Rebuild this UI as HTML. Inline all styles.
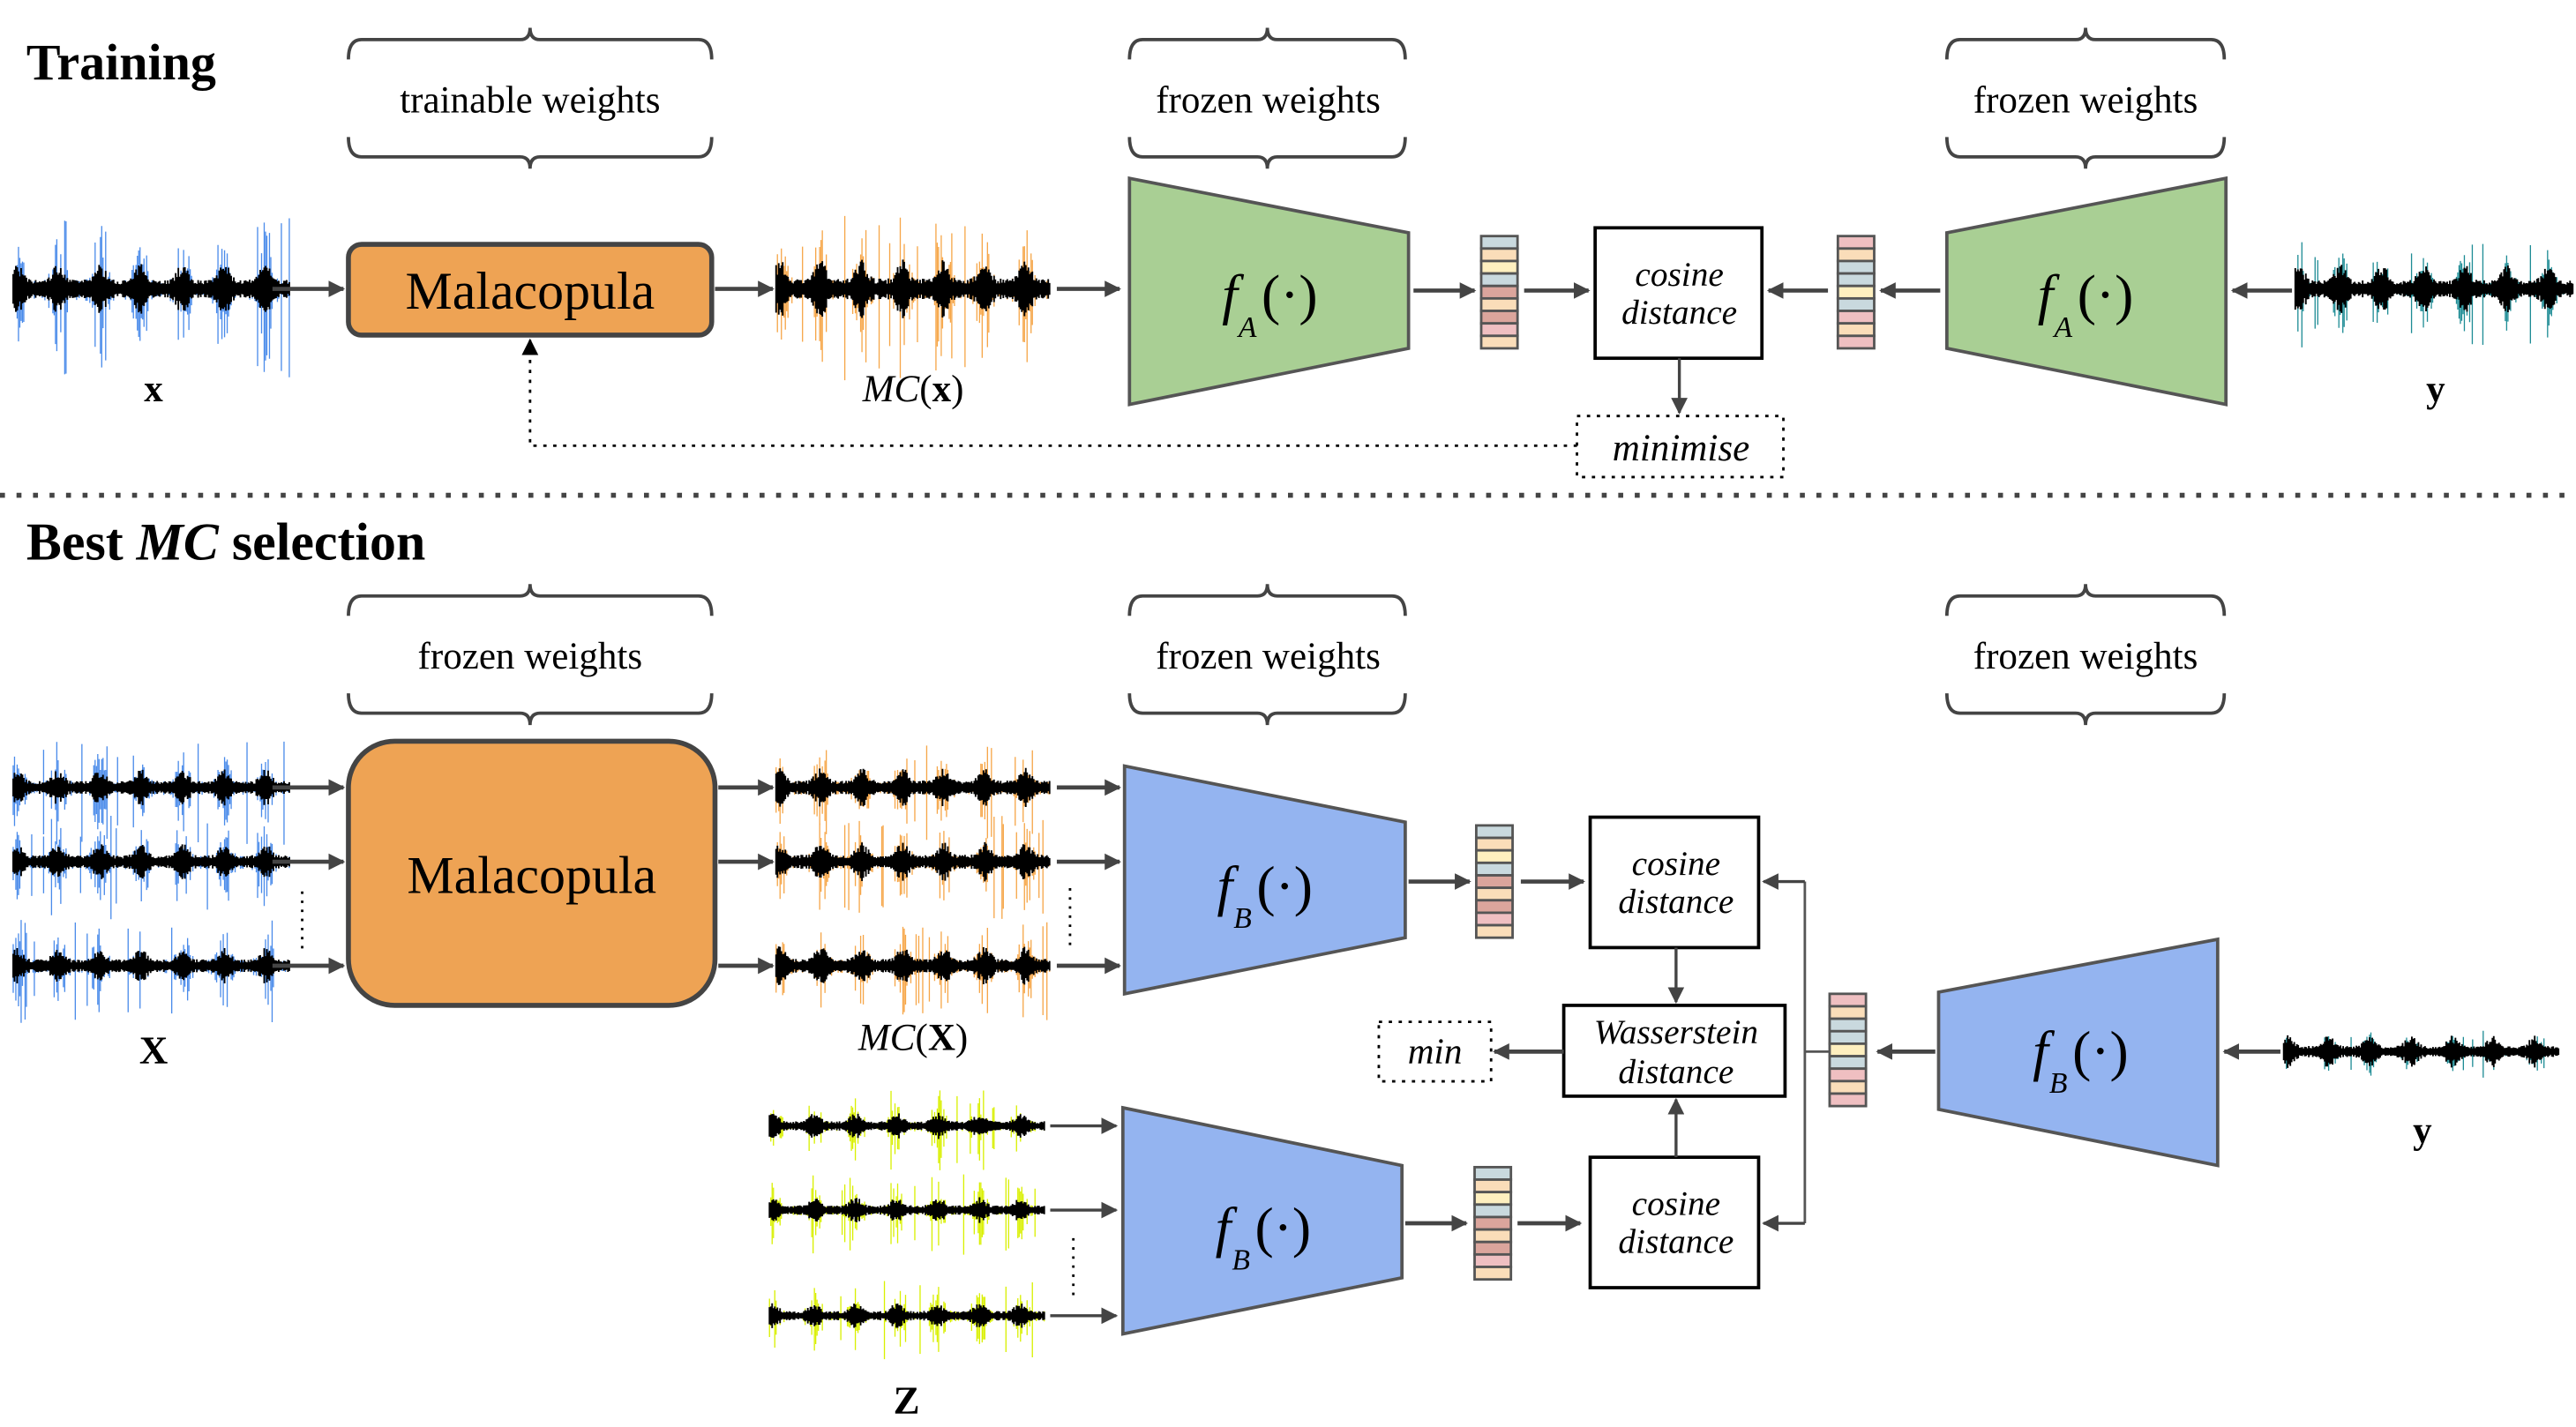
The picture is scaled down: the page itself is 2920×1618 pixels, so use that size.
<!DOCTYPE html>
<html><head><meta charset="utf-8"><style>
html,body{margin:0;padding:0;background:#fff;}
svg{display:block;}
text{font-family:"Liberation Serif","DejaVu Serif",serif;fill:#000;}
</style></head><body>
<svg id="s" width="2920" height="1618" viewBox="0 0 1560 864.4" preserveAspectRatio="none" xmlns="http://www.w3.org/2000/svg">
<defs>
<marker id="ah" markerWidth="10" markerHeight="10" refX="9" refY="5" orient="auto" markerUnits="userSpaceOnUse"><path d="M0,0 L10,5 L0,10 z" fill="#444"/></marker>
<marker id="ahb" markerWidth="10" markerHeight="12" refX="9" refY="5" orient="auto" markerUnits="userSpaceOnUse"><path d="M0,0 L10,5 L0,10 z" fill="#000"/></marker>
</defs>
<g id="waves"></g>

<text x="16" y="48" font-size="31" font-weight="bold">Training</text>
<text x="16" y="339" font-size="32" font-weight="bold">Best <tspan font-style="italic">MC</tspan> selection</text>
<line x1="0" y1="300" x2="1560" y2="300" stroke="#444" stroke-width="3" stroke-dasharray="3,7"/>

<g id="braces" fill="none" stroke="#444" stroke-width="2"></g>
<g font-size="23" text-anchor="middle">
<text x="321" y="68">trainable weights</text>
<text x="768" y="68">frozen weights</text>
<text x="1263" y="68">frozen weights</text>
<text x="321" y="405">frozen weights</text>
<text x="768" y="405">frozen weights</text>
<text x="1263" y="405">frozen weights</text>
</g>

<rect x="211" y="148" width="220" height="55" rx="8" fill="#EEA354" stroke="#444" stroke-width="3"/>
<text x="321" y="187" font-size="32" text-anchor="middle">Malacopula</text>
<polygon points="684,108 853,141 853,211 684,245" fill="#A9CF94" stroke="#555" stroke-width="2"/>
<polygon points="1179,141 1348,108 1348,245 1179,211" fill="#A9CF94" stroke="#555" stroke-width="2"/>
<text x="740" y="190" font-size="34" font-style="italic">f</text><text x="750" y="204" font-size="18" font-style="italic">A</text><text x="764" y="190" font-size="34">(·)</text>
<text x="1234" y="190" font-size="34" font-style="italic">f</text><text x="1244" y="204" font-size="18" font-style="italic">A</text><text x="1258" y="190" font-size="34">(·)</text>
<rect x="966" y="138" width="101" height="79" fill="#fff" stroke="#000" stroke-width="2"/>
<text x="1017" y="173" font-size="21" font-style="italic" text-anchor="middle">cosine</text>
<text x="1017" y="196" font-size="21" font-style="italic" text-anchor="middle">distance</text>
<rect x="955" y="252" width="125" height="37" fill="none" stroke="#000" stroke-width="1.5" stroke-dasharray="2,4"/>
<text x="1018" y="279" font-size="23" font-style="italic" text-anchor="middle">minimise</text>
<polyline points="955,270 321,270 321,206" fill="none" stroke="#000" stroke-width="1.5" stroke-dasharray="2,4" marker-end="url(#ahb)"/>
<text x="93" y="243" font-size="23" font-weight="bold" text-anchor="middle">x</text>
<text x="553" y="243" font-size="23" text-anchor="middle"><tspan font-style="italic">MC</tspan>(<tspan font-weight="bold">x</tspan>)</text>
<text x="1475" y="243" font-size="23" font-weight="bold" text-anchor="middle">y</text>

<rect x="211" y="449" width="222" height="160" rx="28" fill="#EEA354" stroke="#444" stroke-width="3"/>
<text x="322" y="541" font-size="32" text-anchor="middle">Malacopula</text>
<polygon points="681,464 851,498 851,568 681,602" fill="#94B4F0" stroke="#555" stroke-width="2"/>
<polygon points="680,671 849,706 849,774 680,808" fill="#94B4F0" stroke="#555" stroke-width="2"/>
<polygon points="1174,601 1343,569 1343,706 1174,672" fill="#94B4F0" stroke="#555" stroke-width="2"/>
<text x="737" y="548" font-size="34" font-style="italic">f</text><text x="747" y="562" font-size="18" font-style="italic">B</text><text x="761" y="548" font-size="34">(·)</text>
<text x="736" y="755" font-size="34" font-style="italic">f</text><text x="746" y="769" font-size="18" font-style="italic">B</text><text x="760" y="755" font-size="34">(·)</text>
<text x="1231" y="648" font-size="34" font-style="italic">f</text><text x="1241" y="662" font-size="18" font-style="italic">B</text><text x="1255" y="648" font-size="34">(·)</text>
<rect x="963" y="495" width="102" height="79" fill="#fff" stroke="#000" stroke-width="2"/>
<text x="1015" y="530" font-size="21" font-style="italic" text-anchor="middle">cosine</text>
<text x="1015" y="553" font-size="21" font-style="italic" text-anchor="middle">distance</text>
<rect x="963" y="701" width="102" height="79" fill="#fff" stroke="#000" stroke-width="2"/>
<text x="1015" y="736" font-size="21" font-style="italic" text-anchor="middle">cosine</text>
<text x="1015" y="759" font-size="21" font-style="italic" text-anchor="middle">distance</text>
<rect x="947" y="609" width="134" height="55" fill="#fff" stroke="#000" stroke-width="2"/>
<text x="1015" y="632" font-size="21" font-style="italic" text-anchor="middle">Wasserstein</text>
<text x="1015" y="656" font-size="21" font-style="italic" text-anchor="middle">distance</text>
<rect x="835" y="619" width="68" height="36" fill="none" stroke="#000" stroke-width="1.5" stroke-dasharray="2,4"/>
<text x="869" y="644" font-size="22" font-style="italic" text-anchor="middle">min</text>
<polyline points="1108,637 1093,637" fill="none" stroke="#555" stroke-width="1.5"/>
<polyline points="1093,534 1093,741" fill="none" stroke="#555" stroke-width="1.5"/>
<g stroke="#000" stroke-width="1.5" stroke-dasharray="1.5,4">
<line x1="183" y1="540" x2="183" y2="576"/><line x1="648" y1="538" x2="648" y2="574"/><line x1="650" y1="750" x2="650" y2="786"/>
</g>
<text x="93" y="644" font-size="24" font-weight="bold" text-anchor="middle">X</text>
<text x="553" y="636" font-size="23" text-anchor="middle"><tspan font-style="italic">MC</tspan>(<tspan font-weight="bold">X</tspan>)</text>
<text x="549" y="856" font-size="24" font-weight="bold" text-anchor="middle">Z</text>
<text x="1467" y="692" font-size="23" font-weight="bold" text-anchor="middle">y</text>

<g id="arrows" stroke="#444" stroke-width="2.5" fill="none"></g>
<g id="embs"></g>
</svg>
<script>
var NS="http://www.w3.org/2000/svg";
function el(p,t,a){var e=document.createElementNS(NS,t);for(var k in a)e.setAttribute(k,a[k]);document.getElementById(p).appendChild(e);return e;}
function brace(x0,x1,y,dir){var c=(x0+x1)/2;var d=dir*12;
 el('braces','path',{d:'M'+x0+','+(y+d)+' Q'+x0+','+y+' '+(x0+8)+','+y+' L'+(c-6)+','+y+' Q'+c+','+y+' '+c+','+(y-d*0.6)+' Q'+c+','+y+' '+(c+6)+','+y+' L'+(x1-8)+','+y+' Q'+x1+','+y+' '+x1+','+(y+d)});}
[[211,431],[684,851],[1179,1347]].forEach(function(b){brace(b[0],b[1],24,1);brace(b[0],b[1],95,-1);brace(b[0],b[1],361,1);brace(b[0],b[1],432,-1);});
function ar(x1,y1,x2,y2,w){el('arrows','line',{x1:x1,y1:y1,x2:x2,y2:y2,'marker-end':'url(#ah)','stroke-width':w||2.5});}
ar(165,175,208,175);ar(433,175,468,175);ar(640,175,678,175);ar(856,176,893,176);ar(923,176,962,176);
ar(1107,176,1071,176);ar(1175,176,1139,176);ar(1388,176,1352,176);ar(1017,217,1017,250,1.8);
[477,522,585].forEach(function(y){ar(165,y,208,y);ar(435,y,468,y);ar(640,y,678,y);});
[682,733,797].forEach(function(y){ar(636,y,676,y,1.8);});
ar(853,534,890,534);ar(921,534,959,534);ar(851,741,888,741);ar(919,741,957,741);
ar(1015,574,1015,607,1.8);ar(1015,701,1015,666,1.8);ar(947,637,905,637);
ar(1093,534,1068,534,1.8);ar(1093,741,1068,741,1.8);ar(1172,637,1137,637);ar(1381,637,1347,637);
var cL=['#C9D9DE','#FADDB9','#FEEFBF','#C9D9DE','#DBA59C','#FADDB9','#DBA59C','#EFBFC1','#FADDB9'];
var cR=['#EFBFC1','#FADDB9','#C9D9DE','#C9D9DE','#FEEFBF','#C9D9DE','#EFBFC1','#FADDB9','#EFBFC1'];
function emb(x,y,h,cols){var ch=h/9;for(var i=0;i<9;i++)el('embs','rect',{x:x,y:y+i*ch,width:22,height:ch,fill:cols[i],stroke:'#555','stroke-width':1.5});}
emb(897,143,68,cL);emb(1113,143,68,cR);emb(894,500,68,cL);emb(893,707,68,cL);emb(1108,602,68,cR);
var seed=7;function rnd(){seed=(seed*16807)%2147483647;return seed/2147483647;}
function wave(x0,x1,cy,amp,col,bamp){var d1='',d2='';var n=0;
 for(var x=x0;x<=x1;x+=0.8){var t=(x-x0)/(x1-x0);
 var burst=Math.pow(Math.abs(Math.sin(t*21+1.3)),6);
 var a=amp*(0.15+0.85*burst)*Math.pow(rnd(),1.5);if(rnd()<0.05)a=amp*(0.6+0.6*rnd());
 var b=bamp*(0.35+0.65*burst)*(0.5+0.5*rnd());
 d1+='M'+x.toFixed(1)+','+(cy-a).toFixed(1)+'V'+(cy+a*1.25).toFixed(1);d2+='M'+x.toFixed(1)+','+(cy-b).toFixed(1)+'V'+(cy+b).toFixed(1);}
 el('waves','path',{d:d1,stroke:col,'stroke-width':0.7,fill:'none'});el('waves','path',{d:d2,stroke:'#000','stroke-width':1,fill:'none'});}
wave(8,176,175,36,'#4A8BEA',16);wave(470,636,175,38,'#F6A648',18);wave(1390,1558,175,24,'#1E8C95',15);
[477,522,585].forEach(function(y){wave(8,176,y,24,'#4A8BEA',11);wave(470,636,y,24,'#F6A648',12);});
[682,733,797].forEach(function(y){wave(466,633,y,18,'#D9F000',8);});
wave(1383,1550,637,12,'#1E8C95',10);
</script>
</body></html>
